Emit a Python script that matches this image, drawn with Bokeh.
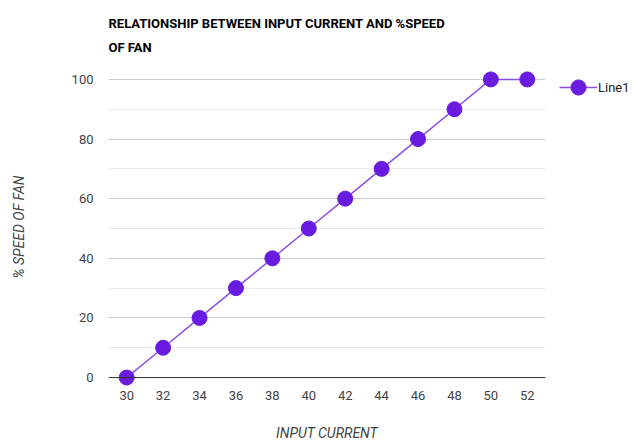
from bokeh.plotting import figure
from bokeh.models import Range1d, FixedTicker, Span, Title, Legend, LegendItem
from bokeh.embed import file_html
from bokeh.resources import INLINE

input_current = [30, 32, 34, 36, 38, 40, 42, 44, 46, 48, 50, 52]
speed_pct = [0, 10, 20, 30, 40, 50, 60, 70, 80, 90, 100, 100]
x_ticks = [30, 32, 34, 36, 38, 40, 42, 44, 46, 48, 50, 52]
y_major = [0, 20, 40, 60, 80, 100]
y_minor = [10, 30, 50, 70, 90]
series_name = "Line1"
title_lines = ["RELATIONSHIP BETWEEN INPUT CURRENT AND %SPEED", "OF FAN"]

FONT = "Roboto"
p = figure(frame_width=437, frame_height=319, output_backend="svg", toolbar_location=None,
           x_range=Range1d(29, 53), y_range=Range1d(-3, 104),
           min_border_left=108, min_border_right=90,
           min_border_top=67, min_border_bottom=55)
p.outline_line_color = None
p.background_fill_color = "white"
p.border_fill_color = "white"

# axes
p.xaxis.ticker = FixedTicker(ticks=x_ticks)
p.yaxis.ticker = FixedTicker(ticks=y_major, minor_ticks=y_minor)
for ax in (p.xaxis[0], p.yaxis[0]):
    ax.axis_line_color = None
    ax.major_tick_line_color = None
    ax.minor_tick_line_color = None
    ax.major_tick_out = 0
    ax.major_tick_in = 0
    ax.minor_tick_out = 0
    ax.minor_tick_in = 0
    ax.major_label_text_font = FONT
    ax.major_label_text_font_size = "13px"
    ax.major_label_text_color = "#444444"
    ax.axis_label_text_font = FONT
    ax.axis_label_text_font_size = "14px"
    ax.axis_label_text_font_style = "italic"
    ax.axis_label_text_color = "#444444"
p.xaxis.axis_label = "INPUT CURRENT"
p.yaxis.axis_label = "% SPEED OF FAN"
p.xaxis.major_label_standoff = 4
p.xaxis.axis_label_standoff = 22
p.yaxis.major_label_standoff = 15
p.yaxis.axis_label_standoff = 42

p.xgrid.grid_line_color = None
p.ygrid.grid_line_color = "#cccccc"
p.ygrid.minor_grid_line_color = "#ebebeb"

p.add_layout(Span(location=0, dimension="width", line_color="#333333", line_width=1))

line_r = p.line(input_current, speed_pct, line_color="#8b4fe6", line_width=1.5)
pts_r = p.scatter(input_current, speed_pct, size=15, fill_color="#6a1be0", line_color="#6a1be0")

legend = Legend(items=[LegendItem(label=series_name, renderers=[line_r, pts_r])],
                location=(14, 280), padding=0, margin=0, spacing=0,
                glyph_width=38, glyph_height=38, label_standoff=1,
                border_line_color=None, background_fill_alpha=0,
                label_text_font=FONT, label_text_font_size="13px", label_text_color="#222222")
p.add_layout(legend, "right")

p.title = None
p.add_layout(Title(text="\n".join(title_lines), align="left", text_font=FONT,
                   text_font_size="13px", text_font_style="bold", text_color="#000000",
                   text_line_height=1.58, standoff=25), "above")

open("out.html", "w").write(file_html(p, INLINE))
